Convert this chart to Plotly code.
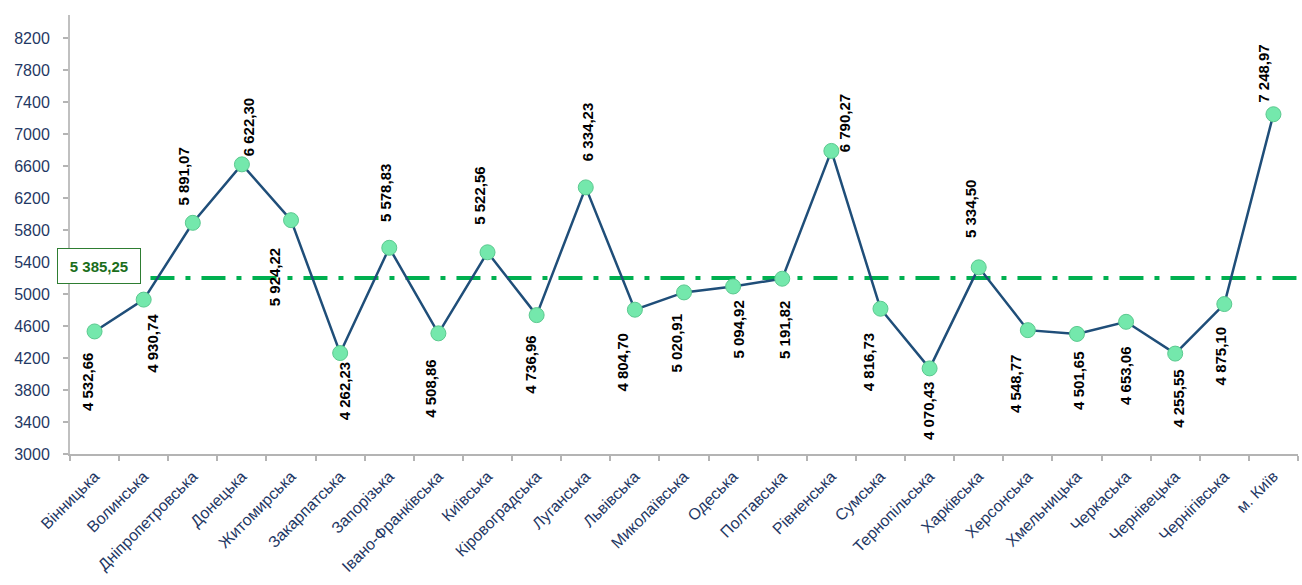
import plotly.graph_objects as go
import numpy as np

# ---------------- data ----------------
regions = ["Вінницька", "Волинська", "Дніпропетровська", "Донецька", "Житомирська",
           "Закарпатська", "Запорізька", "Івано-Франківська", "Київська", "Кіровоградська",
           "Луганська", "Львівська", "Миколаївська", "Одеська", "Полтавська",
           "Рівненська", "Сумська", "Тернопільська", "Харківська", "Херсонська",
           "Хмельницька", "Черкаська", "Чернівецька", "Чернігівська", "м. Київ"]
values = [4532.66, 4930.74, 5891.07, 6622.30, 5924.22,
          4262.23, 5578.83, 4508.86, 5522.56, 4736.96,
          6334.23, 4804.70, 5020.91, 5094.92, 5191.82,
          6790.27, 4816.73, 4070.43, 5334.50, 4548.77,
          4501.65, 4653.06, 4255.55, 4875.10, 7248.97]
avg_label_value = 5385.25
y_tick_values = list(range(3000, 8201, 400))

# ---------------- label placement (style) ----------------
label_side = ["below", "below", "above", "above", "below", "below", "above", "below",
              "above", "below", "above", "below", "below", "below", "below", "above",
              "below", "below", "above", "below", "below", "below", "below", "below", "above"]
label_gap = [21, 13, 16, 7, 27, 8, 25, 25, 26, 20, 25, 23, 21, 13, 21, -2,
             23, 13, 28, 24, 17, 24, 15, 22, 11]
label_dx = [-7, 8, -9, 6, -17, 4, -3, -8, -8, -7, 2, -12, -8, 5, 2, 14,
            -12, -1, -8, -13, 2, 0, 3, -4, -10]


def fmt(v):
    return f"{v:,.2f}".replace(",", " ").replace(".", ",")


NAVY = "#1F3864"
AXIS_GREY = "#B4B4B4"
LABEL_FONT = "Liberation Sans, Arial, sans-serif"

fig = go.Figure()

mean_val = float(np.mean(values))

fig.add_trace(go.Scatter(
    x=regions, y=values, mode="lines+markers",
    line=dict(color="#1F4E79", width=2.5),
    marker=dict(size=15, color="#74E8AC", line=dict(color="#5BC98F", width=1)),
    showlegend=False, hoverinfo="x+y",
))

# average dash-dot line
fig.add_shape(type="line", xref="x", yref="y",
              x0=0.1, x1=24.5, y0=mean_val, y1=mean_val,
              line=dict(color="#00B050", width=4, dash="24px,11px,5px,11px"),
              layer="below")

annotations = []
for i, (r, v) in enumerate(zip(regions, values)):
    below = label_side[i] == "below"
    annotations.append(dict(
        x=r, y=v, xref="x", yref="y", text=fmt(v), textangle=-90,
        showarrow=False, xanchor="center",
        yanchor="top" if below else "bottom",
        yshift=-label_gap[i] if below else label_gap[i],
        xshift=label_dx[i],
        font=dict(family=LABEL_FONT, size=15, color="#000000", weight="bold"),
        borderpad=0,
    ))

# average value box
annotations.append(dict(
    x=(98.5 - 70) / 1228, xref="paper", y=avg_label_value, yref="y", yshift=-3,
    text=fmt(avg_label_value), showarrow=False, xanchor="center", yanchor="middle",
    font=dict(family=LABEL_FONT, size=15, color="#1B6E1B", weight="bold"),
    bgcolor="#FFFFFF", bordercolor="#2E7D32", borderwidth=1,
    width=80, height=32, borderpad=1,
))

fig.update_layout(
    width=1302, height=585,
    margin=dict(l=70, r=4, t=15, b=131),
    paper_bgcolor="#FFFFFF", plot_bgcolor="#FFFFFF",
    annotations=annotations,
    xaxis=dict(
        type="category", range=[-0.5, 24.5],
        showline=True, linecolor=AXIS_GREY, linewidth=1.5,
        ticks="outside", ticklen=5, tickcolor=AXIS_GREY, tickwidth=1.5,
        tickson="boundaries", tickangle=-45, showgrid=False, zeroline=False,
        ticklabelstandoff=5,
        tickfont=dict(family="Liberation Sans, Arial, sans-serif", size=16, color=NAVY),
        automargin=False,
    ),
    yaxis=dict(
        range=[3000, 8490], tickvals=y_tick_values,
        showline=True, linecolor="#C0C0C0", linewidth=2,
        ticks="outside", ticklen=5, tickcolor=AXIS_GREY, tickwidth=1.5,
        showgrid=False, zeroline=False, ticklabelstandoff=10,
        tickfont=dict(family="Liberation Sans, Arial, sans-serif", size=16, color=NAVY),
        automargin=False,
    ),
)

fig.write_html("out.html")
